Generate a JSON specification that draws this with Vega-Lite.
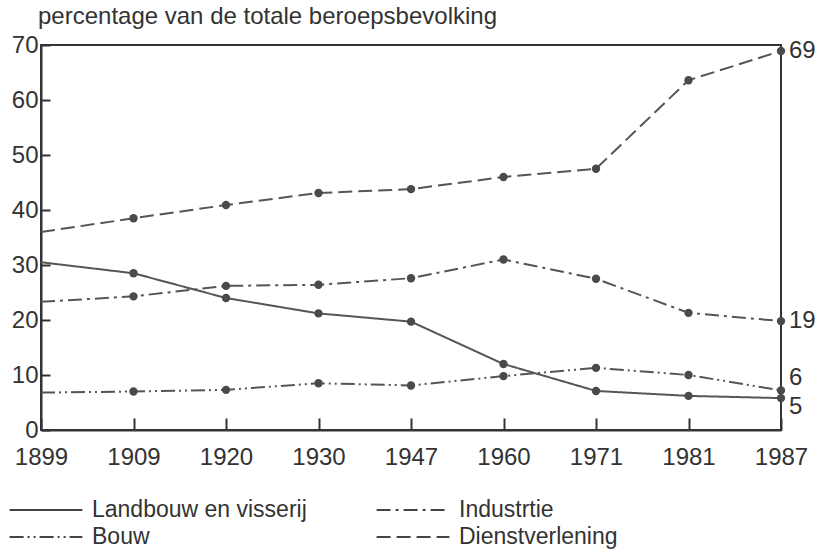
{
  "$schema": "https://vega.github.io/schema/vega-lite/v6.json",
  "width": 740,
  "height": 385,
  "autosize": {"type": "none"},
  "padding": {"left": 41, "top": 45, "right": 36, "bottom": 123},
  "background": "white",
  "title": {
    "text": "percentage van de totale beroepsbevolking",
    "anchor": "start",
    "orient": "top",
    "frame": "group",
    "dx": -3,
    "offset": 4,
    "font": "Liberation Sans",
    "fontSize": 24,
    "fontWeight": "normal",
    "color": "#333"
  },
  "config": {
    "font": "Liberation Sans",
    "view": {"stroke": "#333", "strokeWidth": 2},
    "axis": {
      "grid": false,
      "domainColor": "#333",
      "domainWidth": 2,
      "tickColor": "#333",
      "tickWidth": 2,
      "labelColor": "#333",
      "labelFontSize": 24,
      "labelFont": "Liberation Sans",
      "title": null
    }
  },
  "datasets": {
    "series": [
      {"year": "1899", "sector": "Landbouw en visserij", "value": 30.5},
      {"year": "1909", "sector": "Landbouw en visserij", "value": 28.5},
      {"year": "1920", "sector": "Landbouw en visserij", "value": 24},
      {"year": "1930", "sector": "Landbouw en visserij", "value": 21.2},
      {"year": "1947", "sector": "Landbouw en visserij", "value": 19.7},
      {"year": "1960", "sector": "Landbouw en visserij", "value": 12},
      {"year": "1971", "sector": "Landbouw en visserij", "value": 7.1},
      {"year": "1981", "sector": "Landbouw en visserij", "value": 6.2},
      {"year": "1987", "sector": "Landbouw en visserij", "value": 5.8},
      {"year": "1899", "sector": "Industrtie", "value": 23.3},
      {"year": "1909", "sector": "Industrtie", "value": 24.3},
      {"year": "1920", "sector": "Industrtie", "value": 26.2},
      {"year": "1930", "sector": "Industrtie", "value": 26.4},
      {"year": "1947", "sector": "Industrtie", "value": 27.6},
      {"year": "1960", "sector": "Industrtie", "value": 31},
      {"year": "1971", "sector": "Industrtie", "value": 27.5},
      {"year": "1981", "sector": "Industrtie", "value": 21.3},
      {"year": "1987", "sector": "Industrtie", "value": 19.8},
      {"year": "1899", "sector": "Bouw", "value": 6.8},
      {"year": "1909", "sector": "Bouw", "value": 7},
      {"year": "1920", "sector": "Bouw", "value": 7.3},
      {"year": "1930", "sector": "Bouw", "value": 8.5},
      {"year": "1947", "sector": "Bouw", "value": 8.1},
      {"year": "1960", "sector": "Bouw", "value": 9.8},
      {"year": "1971", "sector": "Bouw", "value": 11.3},
      {"year": "1981", "sector": "Bouw", "value": 10},
      {"year": "1987", "sector": "Bouw", "value": 7.2},
      {"year": "1899", "sector": "Dienstverlening", "value": 36},
      {"year": "1909", "sector": "Dienstverlening", "value": 38.5},
      {"year": "1920", "sector": "Dienstverlening", "value": 40.9},
      {"year": "1930", "sector": "Dienstverlening", "value": 43.1},
      {"year": "1947", "sector": "Dienstverlening", "value": 43.8},
      {"year": "1960", "sector": "Dienstverlening", "value": 46},
      {"year": "1971", "sector": "Dienstverlening", "value": 47.5},
      {"year": "1981", "sector": "Dienstverlening", "value": 63.6},
      {"year": "1987", "sector": "Dienstverlening", "value": 68.9}
    ],
    "endlabels": [
      {"year": "1987", "value": 68.9, "label": "69", "group": "mid"},
      {"year": "1987", "value": 19.8, "label": "19", "group": "mid"},
      {"year": "1987", "value": 7.2, "label": "6", "group": "up"},
      {"year": "1987", "value": 5.8, "label": "5", "group": "down"}
    ]
  },
  "encoding": {
    "x": {
      "field": "year",
      "type": "ordinal",
      "scale": {"type": "point", "padding": 0},
      "axis": {"labelAngle": 0, "tickSize": -12, "labelPadding": 27, "domain": true}
    },
    "y": {
      "field": "value",
      "type": "quantitative",
      "scale": {"domain": [0, 70], "nice": false, "zero": true},
      "axis": {"values": [0, 10, 20, 30, 40, 50, 60, 70], "tickSize": -9, "labelPadding": 12}
    }
  },
  "layer": [
    {
      "data": {"name": "series"},
      "mark": {"type": "line", "color": "#555", "strokeWidth": 2},
      "encoding": {
        "strokeDash": {
          "field": "sector",
          "type": "nominal",
          "scale": {
            "domain": ["Landbouw en visserij", "Industrtie", "Bouw", "Dienstverlening"],
            "range": [[1, 0], [14, 5, 3, 5], [14, 4, 2, 4, 2, 4], [14, 6]]
          },
          "legend": {
            "orient": "none",
            "legendX": -10,
            "legendY": 450,
            "direction": "horizontal",
            "columns": 2,
            "title": null,
            "symbolType": "M-2.6,0H2.6",
            "symbolSize": 784,
            "symbolStrokeWidth": 2,
            "symbolStrokeColor": "#444",
            "symbolFillColor": "transparent",
            "labelFontSize": 23,
            "labelColor": "#333",
            "labelFont": "Liberation Sans",
            "labelLimit": 0,
            "labelOffset": 31,
            "columnPadding": 65,
            "rowPadding": -3
          }
        }
      }
    },
    {
      "data": {"name": "series"},
      "transform": [{"filter": "datum.year != '1899'"}],
      "mark": {"type": "point", "filled": true, "color": "#4a4a4a", "size": 70, "opacity": 1}
    },
    {
      "data": {"name": "endlabels"},
      "transform": [{"filter": "datum.group == 'mid'"}],
      "mark": {"type": "text", "align": "left", "dx": 8, "fontSize": 24, "color": "#333", "font": "Liberation Sans"},
      "encoding": {"text": {"field": "label"}}
    },
    {
      "data": {"name": "endlabels"},
      "transform": [{"filter": "datum.group == 'up'"}],
      "mark": {"type": "text", "align": "left", "dx": 8, "dy": -12, "fontSize": 24, "color": "#333", "font": "Liberation Sans"},
      "encoding": {"text": {"field": "label"}}
    },
    {
      "data": {"name": "endlabels"},
      "transform": [{"filter": "datum.group == 'down'"}],
      "mark": {"type": "text", "align": "left", "dx": 8, "dy": 9, "fontSize": 24, "color": "#333", "font": "Liberation Sans"},
      "encoding": {"text": {"field": "label"}}
    }
  ]
}
